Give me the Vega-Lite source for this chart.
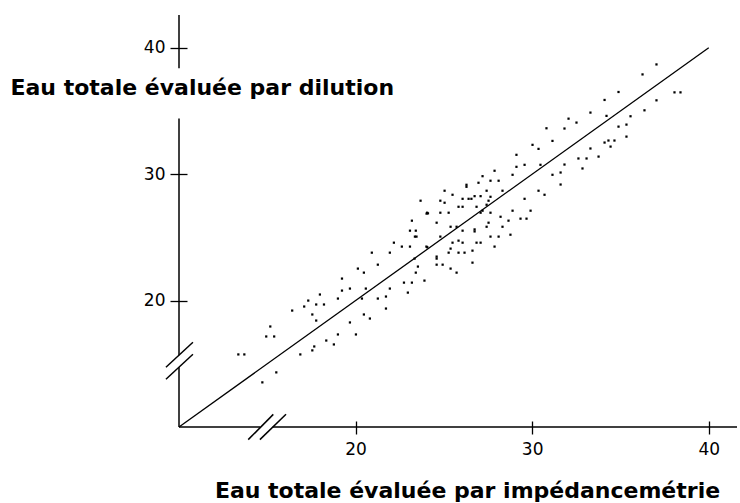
{
  "$schema": "https://vega.github.io/schema/vega-lite/v6.json",
  "autosize": "none",
  "width": 558,
  "height": 412,
  "padding": {"left": 179, "top": 15, "right": 3, "bottom": 76},
  "background": "white",
  "config": {"view": {"stroke": null}},
  "datasets": {
    "points": [
      {"x":17.98,"y":20.48},{"x":17.32,"y":20.00},{"x":17.77,"y":19.69},{"x":18.21,"y":19.69},{"x":17.09,"y":19.53},
      {"x":16.41,"y":19.21},{"x":17.55,"y":18.90},{"x":17.77,"y":18.42},{"x":15.17,"y":17.95},{"x":14.94,"y":17.16},
      {"x":15.39,"y":17.16},{"x":18.34,"y":16.84},{"x":17.66,"y":16.37},{"x":17.55,"y":16.06},{"x":16.87,"y":15.74},
      {"x":13.36,"y":15.74},{"x":13.70,"y":15.74},{"x":15.51,"y":14.32},{"x":14.72,"y":13.53},{"x":18.77,"y":16.53},
      {"x":23.19,"y":26.32},{"x":23.08,"y":25.53},{"x":23.41,"y":25.53},{"x":23.36,"y":25.06},{"x":22.17,"y":24.58},
      {"x":22.62,"y":24.27},{"x":23.08,"y":24.27},{"x":20.92,"y":23.79},{"x":21.94,"y":23.79},{"x":21.26,"y":22.84},
      {"x":23.53,"y":22.69},{"x":20.13,"y":22.53},{"x":20.47,"y":22.21},{"x":23.41,"y":22.21},{"x":19.23,"y":21.74},
      {"x":22.74,"y":21.42},{"x":23.19,"y":21.42},{"x":19.23,"y":20.79},{"x":19.68,"y":20.95},{"x":21.94,"y":20.95},
      {"x":20.58,"y":20.95},{"x":22.96,"y":20.63},{"x":20.36,"y":20.16},{"x":21.72,"y":20.32},{"x":19.00,"y":20.16},
      {"x":21.26,"y":20.16},{"x":21.72,"y":19.37},{"x":20.47,"y":18.90},{"x":20.81,"y":18.58},{"x":19.68,"y":18.27},
      {"x":19.00,"y":17.32},{"x":20.02,"y":17.32},
      {"x":27.19,"y":29.84},{"x":26.96,"y":29.32},{"x":26.28,"y":29.16},{"x":26.28,"y":29.00},{"x":27.42,"y":28.69},
      {"x":25.04,"y":28.69},{"x":25.49,"y":28.37},{"x":26.74,"y":28.26},{"x":27.08,"y":28.26},{"x":26.06,"y":28.05},
      {"x":26.40,"y":28.05},{"x":26.56,"y":28.05},{"x":23.68,"y":27.90},{"x":24.80,"y":27.90},{"x":25.04,"y":27.74},
      {"x":25.83,"y":27.42},{"x":26.06,"y":27.42},{"x":26.85,"y":27.42},{"x":27.42,"y":27.58},{"x":24.05,"y":26.95},
      {"x":24.10,"y":26.90},{"x":24.02,"y":26.88},{"x":24.80,"y":26.95},{"x":25.27,"y":26.95},{"x":27.08,"y":26.95},
      {"x":24.59,"y":26.16},{"x":27.53,"y":26.16},{"x":25.38,"y":25.84},{"x":25.72,"y":25.84},{"x":26.06,"y":25.53},
      {"x":26.74,"y":25.63},{"x":26.74,"y":25.47},{"x":27.42,"y":25.84},{"x":23.45,"y":25.06},{"x":24.80,"y":25.06},
      {"x":25.49,"y":24.58},{"x":25.83,"y":24.74},{"x":26.06,"y":24.58},{"x":26.85,"y":24.58},{"x":27.08,"y":24.58},
      {"x":24.01,"y":24.27},{"x":24.06,"y":24.22},{"x":25.38,"y":24.11},{"x":25.27,"y":23.79},{"x":25.83,"y":23.79},
      {"x":26.17,"y":23.79},{"x":26.62,"y":23.95},{"x":24.59,"y":23.48},{"x":24.59,"y":23.32},{"x":23.34,"y":23.32},
      {"x":26.62,"y":23.00},{"x":24.59,"y":22.84},{"x":24.93,"y":22.84},{"x":25.38,"y":22.53},{"x":25.72,"y":22.21},
      {"x":23.90,"y":21.58},
      {"x":30.81,"y":33.63},{"x":31.15,"y":32.63},{"x":30.02,"y":32.32},{"x":30.36,"y":32.00},{"x":29.11,"y":31.53},
      {"x":29.11,"y":30.58},{"x":29.57,"y":30.74},{"x":30.47,"y":30.74},{"x":27.87,"y":30.27},{"x":28.89,"y":29.95},
      {"x":31.15,"y":29.95},{"x":27.64,"y":29.48},{"x":28.10,"y":29.48},{"x":28.32,"y":28.69},{"x":30.36,"y":28.69},
      {"x":30.70,"y":28.37},{"x":27.64,"y":28.21},{"x":29.57,"y":28.05},{"x":27.53,"y":27.90},{"x":27.19,"y":27.11},
      {"x":27.64,"y":26.95},{"x":28.89,"y":27.11},{"x":29.91,"y":27.11},{"x":28.21,"y":26.63},{"x":29.34,"y":26.48},
      {"x":29.68,"y":26.48},{"x":28.66,"y":26.32},{"x":28.32,"y":25.84},{"x":28.77,"y":25.21},{"x":27.64,"y":25.06},
      {"x":28.10,"y":25.06},{"x":27.87,"y":24.27},
      {"x":34.89,"y":36.50},{"x":34.10,"y":35.87},{"x":33.30,"y":34.87},{"x":34.21,"y":34.61},{"x":32.06,"y":34.39},
      {"x":32.51,"y":34.08},{"x":31.83,"y":33.61},{"x":34.89,"y":33.76},{"x":35.34,"y":33.92},{"x":35.34,"y":32.97},
      {"x":34.10,"y":32.50},{"x":34.32,"y":32.66},{"x":34.66,"y":32.66},{"x":34.44,"y":32.18},{"x":33.30,"y":32.03},
      {"x":33.76,"y":31.39},{"x":32.62,"y":31.24},{"x":33.08,"y":31.24},{"x":31.83,"y":30.76},{"x":32.85,"y":30.45},
      {"x":31.61,"y":30.13},{"x":31.61,"y":29.18},
      {"x":37.04,"y":38.68},{"x":36.25,"y":37.89},{"x":38.06,"y":36.47},{"x":38.40,"y":36.47},{"x":37.04,"y":35.84},
      {"x":36.36,"y":35.05},{"x":35.57,"y":34.58}
    ],
    "fit": [{"x": 10, "y": 10}, {"x": 40, "y": 40}],
    "axislines": [
      {"x": 10, "y": 10, "x2": 10, "y2": 14.73},
      {"x": 10, "y": 15.68, "x2": 10, "y2": 34.41},
      {"x": 10, "y": 38.37, "x2": 10, "y2": 42.59},
      {"x": 10, "y": 10, "x2": 14.61, "y2": 10},
      {"x": 15.30, "y": 10, "x2": 41.6, "y2": 10},
      {"x": 13.92, "y": 9.00, "x2": 15.34, "y2": 11.00},
      {"x": 14.58, "y": 9.00, "x2": 16.06, "y2": 11.01},
      {"x": 9.26, "y": 14.73, "x2": 10.79, "y2": 16.70},
      {"x": 9.26, "y": 13.78, "x2": 10.79, "y2": 15.75}
    ]
  },
  "encoding": {
    "x": {
      "field": "x", "type": "quantitative",
      "scale": {"domain": [10, 41.6], "nice": false, "zero": false},
      "axis": {
        "title": "Eau totale évaluée par impédancemétrie",
        "values": [20, 30, 40], "domain": false, "grid": false,
        "tickSize": 13, "offset": -6, "tickColor": "black", "tickWidth": 1.3,
        "labelFont": "DejaVu Sans", "labelFontSize": 17, "labelColor": "black", "labelPadding": 7,
        "titleFont": "DejaVu Sans", "titleFontWeight": "bold", "titleFontSize": 22, "titleColor": "black",
        "titleX": 288, "titleY": 76, "titleAlign": "center", "titleBaseline": "alphabetic"
      }
    },
    "y": {
      "field": "y", "type": "quantitative",
      "scale": {"domain": [10, 42.59], "nice": false, "zero": false},
      "axis": {
        "title": "Eau totale évaluée par dilution",
        "values": [20, 30, 40], "domain": false, "grid": false,
        "tickSize": 17, "offset": -8, "tickColor": "black", "tickWidth": 1.3,
        "labelFont": "DejaVu Sans", "labelFontSize": 17, "labelColor": "black", "labelPadding": 5,
        "titleFont": "DejaVu Sans", "titleFontWeight": "bold", "titleFontSize": 22, "titleColor": "black",
        "titleAngle": 0, "titleX": -177, "titleY": 79, "titleAlign": "left", "titleBaseline": "alphabetic"
      }
    }
  },
  "layer": [
    {
      "data": {"name": "points"},
      "mark": {"type": "point", "shape": "square", "size": 5, "filled": true, "color": "black", "opacity": 1}
    },
    {
      "data": {"name": "fit"},
      "mark": {"type": "line", "color": "black", "strokeWidth": 1.3}
    },
    {
      "data": {"name": "axislines"},
      "mark": {"type": "rule", "color": "black", "strokeWidth": 1.5},
      "encoding": {
        "x2": {"field": "x2"},
        "y2": {"field": "y2"}
      }
    }
  ]
}
